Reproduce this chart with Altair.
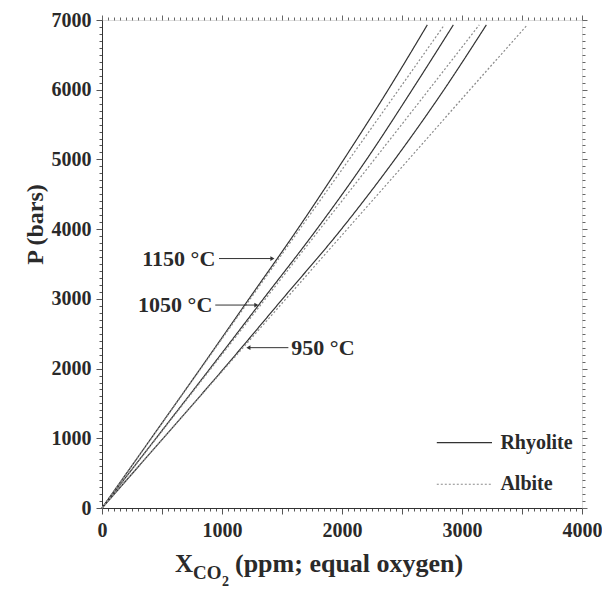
import altair as alt
import pandas as pd

# Pressure levels (bars) at which curves were read
P_bars = [0, 1000, 2000, 3000, 4000, 5000, 6000, 6930]
# XCO2 (ppm)
rhy_1150 = [0, 410, 820, 1225, 1630, 2015, 2385, 2711]
rhy_1050 = [0, 450, 900, 1345, 1790, 2205, 2585, 2928]
rhy_950 = [0, 510, 1015, 1505, 1995, 2440, 2850, 3203]
alb_1150 = [0, 412, 824, 1236, 1648, 2060, 2472, 2853]
alb_1050 = [0, 454, 908, 1362, 1816, 2270, 2724, 3144]
alb_950 = [0, 511, 1022, 1533, 2044, 2555, 3066, 3544]

melts = ["Rhyolite", "Albite"]
temps = ["1150", "1050", "950"]

# temperature labels: text, label x (ppm), label y (bars), arrow start, arrow tip
lab_text = ["1150 °C", "1050 °C", "950 °C"]
lab_x = [944, 919, 1578]
lab_y = [3578, 2911, 2300]
lab_align = ["right", "right", "left"]
arr_from = [975, 944, 1553]
arr_to = [1420, 1286, 1220]
arr_shape = ["triangle-right", "triangle-right", "triangle-left"]

# legend
leg_names = ["Rhyolite", "Albite"]
leg_y = [937, 341]
leg_x0 = 2790
leg_x1 = 3250
leg_tx = 3320

x_ticks = list(range(0, 4001, 50))
y_ticks = list(range(0, 7001, 100))

rows = []
series = {("Rhyolite", "1150"): rhy_1150, ("Rhyolite", "1050"): rhy_1050, ("Rhyolite", "950"): rhy_950,
          ("Albite", "1150"): alb_1150, ("Albite", "1050"): alb_1050, ("Albite", "950"): alb_950}
for (m, t), vals in series.items():
    for p, xv in zip(P_bars, vals):
        rows.append({"melt": m, "temp": t, "x": xv, "P": p, "key": m + t})
df = pd.DataFrame(rows)

lab_df = pd.DataFrame({"text": lab_text, "x": lab_x, "y": lab_y, "align": lab_align,
                       "x0": arr_from, "x1": arr_to, "shape": arr_shape})
leg_df = pd.DataFrame({"name": leg_names, "y": leg_y, "x0": [leg_x0] * 2, "x1": [leg_x1] * 2,
                       "tx": [leg_tx] * 2})

FONT = "Liberation Serif"
TXT = "#2a2a2a"
xs = alt.Scale(domain=[0, 4000], nice=False, zero=False)
ys = alt.Scale(domain=[0, 7000], nice=False, zero=False)

x_axis = alt.Axis(values=x_ticks, labelExpr="datum.value % 1000 === 0 ? datum.label : ''",
                  format="d", labelOverlap=False, labelFlush=False, grid=False,
                  tickSize={"condition": {"test": "datum.value % 500 === 0", "value": 6}, "value": 3},
                  tickColor="#555", domainColor="#333", labelFont=FONT, labelFontSize=20,
                  labelFontWeight="bold", labelColor=TXT, labelPadding=6, title=None)
y_axis = alt.Axis(values=y_ticks, labelExpr="datum.value % 1000 === 0 ? datum.label : ''",
                  format="d", labelOverlap=False, labelFlush=False, grid=False,
                  tickSize={"condition": {"test": "datum.value % 1000 === 0", "value": 6}, "value": 3},
                  tickColor="#555", domainColor="#333", labelFont=FONT, labelFontSize=20,
                  labelFontWeight="bold", labelColor=TXT, labelPadding=5,
                  title="P (bars)", titleFont=FONT, titleFontSize=24, titleFontWeight="bold",
                  titleColor=TXT, titleX=-67, titleY=204, titleAlign="center",
                  titleBaseline="middle", titleAngle=270)

x_top = alt.Axis(orient="top", values=x_ticks, labels=False, domain=False, grid=False, title=None,
                 tickSize={"condition": {"test": "datum.value % 500 === 0", "value": 5}, "value": 3},
                 tickColor="#666")
y_right = alt.Axis(orient="right", values=y_ticks, labels=False, domain=False, grid=False, title=None,
                   tickSize={"condition": {"test": "datum.value % 1000 === 0", "value": 5}, "value": 3},
                   tickColor="#666")

lines = alt.Chart(df).mark_line(strokeWidth=1.2, interpolate="monotone").encode(
    x=alt.X("x:Q", scale=xs, axis=x_axis),
    y=alt.Y("P:Q", scale=ys, axis=y_axis),
    color=alt.Color("melt:N", scale=alt.Scale(domain=melts, range=["#333333", "#8c8c8c"]), legend=None),
    strokeDash=alt.StrokeDash("melt:N", scale=alt.Scale(domain=melts, range=[[1, 0], [2, 2]]), legend=None),
    detail="key:N",
    order="P:Q",
)

frame_ticks = alt.Chart(lab_df).mark_point(opacity=0).encode(
    x=alt.X("x:Q", scale=xs, axis=x_top),
    y=alt.Y("y:Q", scale=ys, axis=y_right),
)

labels_r = alt.Chart(lab_df).transform_filter("datum.align === 'right'").mark_text(
    font=FONT, fontSize=22, fontWeight="bold", color=TXT, align="right", baseline="middle").encode(
    x=alt.X("x:Q", scale=xs, axis=None), y=alt.Y("y:Q", scale=ys, axis=None), text="text:N")
labels_l = alt.Chart(lab_df).transform_filter("datum.align === 'left'").mark_text(
    font=FONT, fontSize=22, fontWeight="bold", color=TXT, align="left", baseline="middle").encode(
    x=alt.X("x:Q", scale=xs, axis=None), y=alt.Y("y:Q", scale=ys, axis=None), text="text:N")

arrows = alt.Chart(lab_df).mark_rule(color="#333", strokeWidth=1).encode(
    x=alt.X("x0:Q", scale=xs, axis=None), x2="x1:Q", y=alt.Y("y:Q", scale=ys, axis=None))
heads = alt.Chart(lab_df).mark_point(filled=True, color="#333", size=22, opacity=1).encode(
    x=alt.X("x1:Q", scale=xs, axis=None), y=alt.Y("y:Q", scale=ys, axis=None),
    shape=alt.Shape("shape:N", scale=None))

leg_lines = alt.Chart(leg_df).mark_rule(strokeWidth=1.2).encode(
    x=alt.X("x0:Q", scale=xs, axis=None), x2="x1:Q", y=alt.Y("y:Q", scale=ys, axis=None),
    color=alt.Color("name:N", scale=alt.Scale(domain=melts, range=["#333333", "#8c8c8c"]), legend=None),
    strokeDash=alt.StrokeDash("name:N", scale=alt.Scale(domain=melts, range=[[1, 0], [2, 2]]), legend=None))
leg_text = alt.Chart(leg_df).mark_text(font=FONT, fontSize=20, fontWeight="bold", color=TXT,
                                       align="left", baseline="middle").encode(
    x=alt.X("tx:Q", scale=xs, axis=None), y=alt.Y("y:Q", scale=ys, axis=None), text="name:N")

# x-axis title with subscript, placed below the plot
title_parts = pd.DataFrame({"t": ["X", "CO", "2", "(ppm; equal oxygen)"]})
t_main = alt.Chart(title_parts).transform_filter("datum.t === 'X'").mark_text(
    font=FONT, fontSize=25, fontWeight="bold", color=TXT, align="left", baseline="alphabetic").encode(
    x=alt.value(73), y=alt.value(552), text="t:N")
t_co = alt.Chart(title_parts).transform_filter("datum.t === 'CO'").mark_text(
    font=FONT, fontSize=19, fontWeight="bold", color=TXT, align="left", baseline="alphabetic").encode(
    x=alt.value(91), y=alt.value(559), text="t:N")
t_2 = alt.Chart(title_parts).transform_filter("datum.t === '2'").mark_text(
    font=FONT, fontSize=14, fontWeight="bold", color=TXT, align="left", baseline="alphabetic").encode(
    x=alt.value(120), y=alt.value(566), text="t:N")
t_rest = alt.Chart(title_parts).transform_filter("datum.t !== 'X' && datum.t !== 'CO' && datum.t !== '2'").mark_text(
    font=FONT, fontSize=26, fontWeight="bold", color=TXT, align="left", baseline="alphabetic").encode(
    x=alt.value(133), y=alt.value(552), text="t:N")

chart = alt.layer(
    lines, frame_ticks, labels_r, labels_l, arrows, heads, leg_lines, leg_text,
    t_main, t_co, t_2, t_rest
).resolve_axis(x="independent", y="independent").properties(
    width=480, height=488,
    autosize=alt.AutoSizeParams(type="none"),
    padding={"left": 94, "top": 12, "right": 20, "bottom": 80},
).configure_view(stroke="#333", strokeWidth=1).configure(background="white")

chart.save("out.html", embed_options={"renderer": "svg", "actions": False})
